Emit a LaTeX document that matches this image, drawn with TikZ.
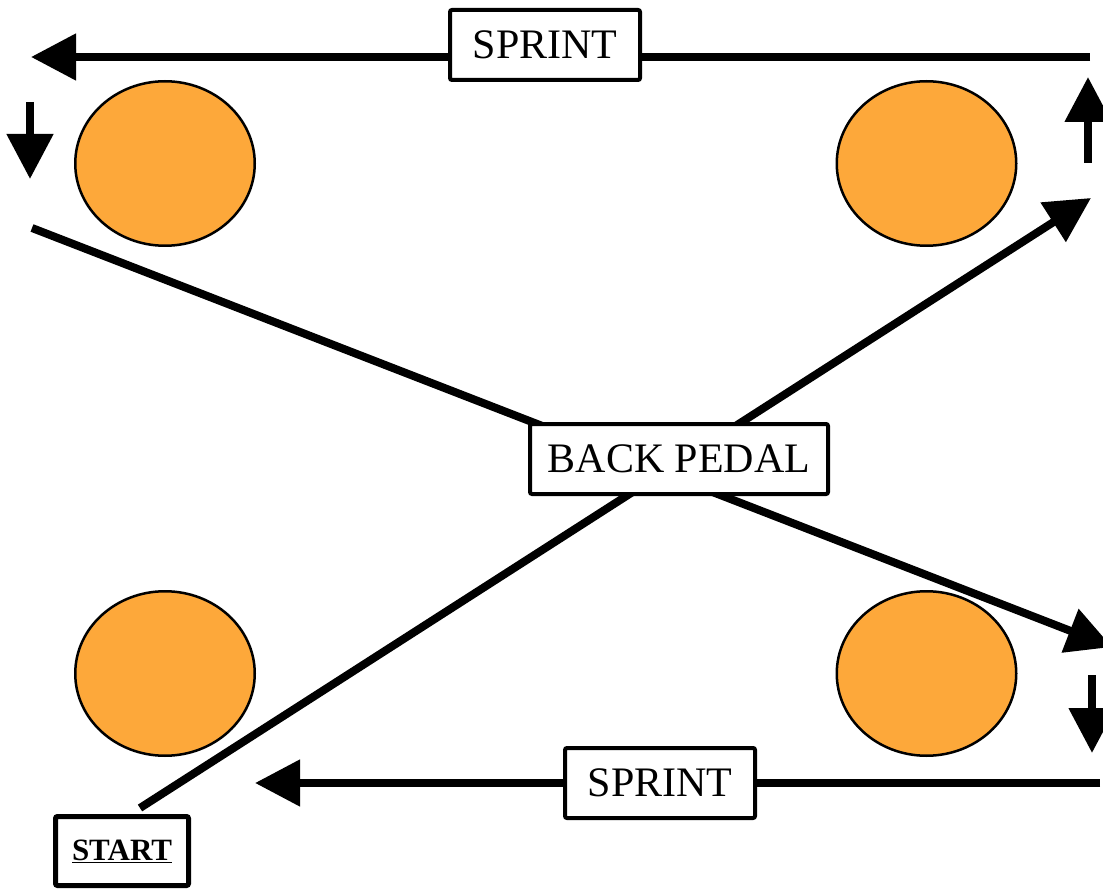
\documentclass[tikz,border=0pt]{standalone}
\usepackage{fontspec}
\setmainfont{Liberation Serif}
\usetikzlibrary{arrows.meta,shapes.geometric}
\definecolor{cone}{HTML}{FDA83A}
\tikzset{
  thick line/.style={line width=8pt},
  big arrow/.style={thick line,-{Triangle[length=45pt,width=45pt]}},
  labelbox/.style={draw,fill=white,line width=4pt,rounded corners=2pt,inner sep=0pt,
    font=\fontsize{42}{48}\selectfont,minimum height=70pt},
  cone/.style={ellipse,draw,fill=cone,line width=2.5pt,inner sep=0pt,
    minimum width=179.5pt,minimum height=164.5pt}
}
\begin{document}
\begin{tikzpicture}[x=1pt,y=-1pt]
\useasboundingbox (0,0) rectangle (1103,890);
% cones
\node[cone] (c1) at (165,163.5) {};
\node[cone] (c2) at (926.5,163.5) {};
\node[cone] (c3) at (165,673.5) {};
\node[cone] (c4) at (926.5,673.5) {};
% coordinates
\coordinate (topR) at (1090,57);
\coordinate (topL) at (31,57);
\coordinate (tlS) at (30,102);
\coordinate (tlE) at (30,179);
\coordinate (trS) at (1088,163);
\coordinate (trE) at (1088,77);
\coordinate (d1S) at (140,808);
\coordinate (d1E) at (1091,198);
\coordinate (d2S) at (32,228);
\coordinate (d2E) at (1112,647);
\coordinate (brS) at (1092,675);
\coordinate (brE) at (1092,753);
\coordinate (botR) at (1100,783);
\coordinate (botL) at (255,783);
% connectors
\draw[big arrow] (topR) -- (topL);
\draw[big arrow] (tlS) -- (tlE);
\draw[big arrow] (trS) -- (trE);
\draw[big arrow] (d1S) -- (d1E);
\draw[big arrow] (d2S) -- (d2E);
\draw[big arrow] (brS) -- (brE);
\draw[big arrow] (botR) -- (botL);
% labels
\node[labelbox,minimum width=190pt] (sprint1) at (545,45) {SPRINT};
\node[labelbox,minimum width=298pt] (back) at (679,459) {BACK PEDAL};
\node[labelbox,minimum width=190pt] (sprint2) at (660,783) {SPRINT};
\node[draw,fill=white,line width=5pt,rounded corners=2pt,inner sep=0pt,
  minimum width=133pt,minimum height=69pt,font=\fontsize{31}{36}\selectfont\bfseries]
  (start) at (122,851) {\raisebox{-3pt}{\underline{START}}};
\end{tikzpicture}
\end{document}
